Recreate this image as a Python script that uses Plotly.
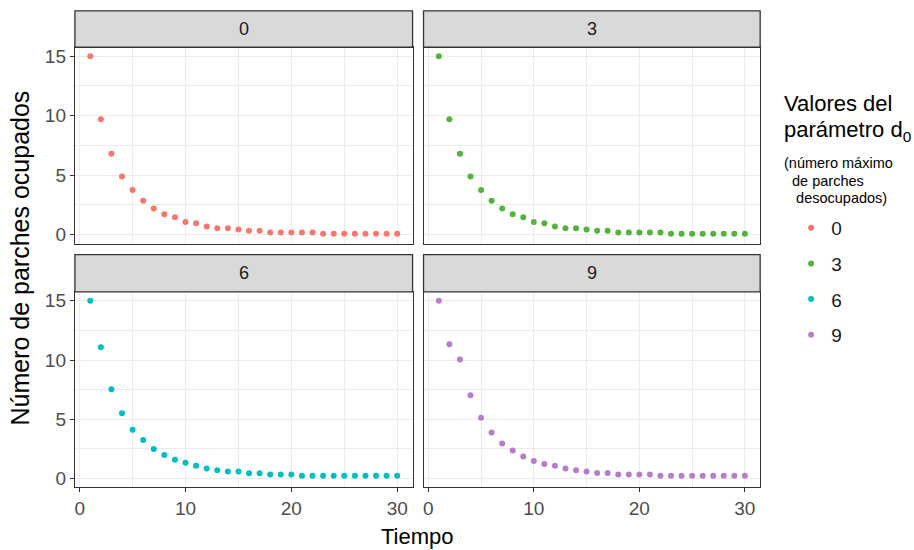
import plotly.graph_objects as go

# ---------------- data ----------------
tiempo = list(range(1, 31))
d0_levels = ["0", "3", "6", "9"]
colors = ["#F8766D", "#53B43A", "#00BFC4", "#B77DCB"]

parches_d0_0 = [15, 9.7, 6.8, 4.9, 3.75, 2.85, 2.2, 1.72, 1.47, 1.08, 0.97, 0.69, 0.55, 0.55, 0.44,
                0.33, 0.33, 0.19, 0.19, 0.19, 0.19, 0.19, 0.08, 0.08, 0.08, 0.08, 0.08, 0.08, 0.08, 0.08]
parches_d0_3 = [15, 9.7, 6.8, 4.9, 3.75, 2.85, 2.2, 1.72, 1.47, 1.08, 0.97, 0.69, 0.55, 0.55, 0.44,
                0.33, 0.33, 0.19, 0.19, 0.19, 0.19, 0.19, 0.08, 0.08, 0.08, 0.08, 0.08, 0.08, 0.08, 0.08]
parches_d0_6 = [15, 11.07, 7.53, 5.51, 4.12, 3.24, 2.49, 1.97, 1.58, 1.33, 1.08, 0.83, 0.69, 0.58, 0.58,
                0.44, 0.44, 0.33, 0.33, 0.33, 0.22, 0.22, 0.22, 0.22, 0.22, 0.22, 0.22, 0.22, 0.22, 0.22]
parches_d0_9 = [15, 11.32, 10.05, 7.03, 5.12, 3.87, 2.96, 2.35, 1.85, 1.47, 1.22, 1.08, 0.83, 0.69, 0.58,
                0.47, 0.47, 0.33, 0.33, 0.33, 0.33, 0.22, 0.22, 0.22, 0.22, 0.22, 0.22, 0.22, 0.22, 0.22]
series = [parches_d0_0, parches_d0_3, parches_d0_6, parches_d0_9]

x_major = [0, 10, 20, 30]
x_minor = [5, 15, 25]
y_major = [0, 5, 10, 15]
y_minor = [2.5, 7.5, 12.5]

legend_title_lines = ["Valores del", "parámetro d<sub>0</sub>"]
legend_note_lines = ["(número máximo", "\u00a0\u00a0de parches", "\u00a0\u00a0\u00a0desocupados)"]

# ---------------- layout geometry ----------------
W, H = 914, 550
def px(x): return x / W
def py(y): return 1 - y / H

x_dom = [[px(74), px(412)], [px(423), px(760)]]
panel_y = [[py(244), py(46.5)], [py(489), py(292.5)]]
strip_y = [[py(46.5), py(10)], [py(292.5), py(255)]]

FONT = "Liberation Sans, Arial, sans-serif"
BORDER = "#333333"
GRID = "#EBEBEB"

fig = go.Figure()
layout = dict(
    width=W, height=H,
    margin=dict(l=0, r=0, t=0, b=0),
    paper_bgcolor="white", plot_bgcolor="white",
    font=dict(family=FONT, color="#1A1A1A"),
    showlegend=True,
)
shapes, annotations = [], []

for i, (lev, col, vals) in enumerate(zip(d0_levels, colors, series)):
    r, c = divmod(i, 2)
    n = i + 1
    xa = "x" if n == 1 else f"x{n}"
    ya = "y" if n == 1 else f"y{n}"
    fig.add_trace(go.Scatter(
        x=tiempo, y=vals, mode="markers", name=lev,
        marker=dict(color=col, size=6),
        xaxis=xa, yaxis=ya, legendgroup=lev,
    ))
    bottom = r == 1
    left = c == 0
    layout["xaxis" if n == 1 else f"xaxis{n}"] = dict(
        domain=x_dom[c], anchor=ya, range=[-0.45, 31.45],
        tickvals=x_major, showticklabels=bottom,
        ticks="outside" if bottom else "", ticklen=4, tickwidth=1.1, tickcolor=BORDER,
        tickfont=dict(size=19, color="#4D4D4D", family=FONT),
        showgrid=True, gridcolor=GRID, gridwidth=1.1,
        minor=dict(tickvals=x_minor, showgrid=True, gridcolor=GRID, gridwidth=0.6, ticks=""),
        showline=True, mirror=True, linecolor=BORDER, linewidth=1.3, zeroline=False,
    )
    layout["yaxis" if n == 1 else f"yaxis{n}"] = dict(
        domain=panel_y[r], anchor=xa, range=[-0.75, 15.75],
        tickvals=y_major, showticklabels=left,
        ticks="outside" if left else "", ticklen=4, tickwidth=1.1, tickcolor=BORDER,
        tickfont=dict(size=19, color="#4D4D4D", family=FONT),
        showgrid=True, gridcolor=GRID, gridwidth=1.1,
        minor=dict(tickvals=y_minor, showgrid=True, gridcolor=GRID, gridwidth=0.6, ticks=""),
        showline=True, mirror=True, linecolor=BORDER, linewidth=1.3, zeroline=False,
    )
    shapes.append(dict(type="rect", xref="paper", yref="paper",
                       x0=x_dom[c][0], x1=x_dom[c][1], y0=strip_y[r][0], y1=strip_y[r][1],
                       fillcolor="#D9D9D9", line=dict(color=BORDER, width=1.3), layer="above"))
    annotations.append(dict(text=lev, xref="paper", yref="paper",
                            x=(x_dom[c][0] + x_dom[c][1]) / 2, y=(strip_y[r][0] + strip_y[r][1]) / 2,
                            xanchor="center", yanchor="middle", showarrow=False,
                            font=dict(size=18, color="#1A1A1A", family=FONT)))

annotations.append(dict(text="Número de parches ocupados", xref="paper", yref="paper",
                        x=px(19), y=py(258), textangle=-90, showarrow=False,
                        xanchor="center", yanchor="middle",
                        font=dict(size=25, color="#000000", family=FONT)))
annotations.append(dict(text="Tiempo", xref="paper", yref="paper",
                        x=px(417), y=py(538), showarrow=False,
                        xanchor="center", yanchor="middle",
                        font=dict(size=22, color="#000000", family=FONT)))

# legend title (drawn as text lines next to the legend)
for txt, yc in zip(legend_title_lines, [103, 131]):
    annotations.append(dict(text=txt, xref="paper", yref="paper", x=px(782), y=py(yc),
                            xanchor="left", yanchor="middle", showarrow=False,
                            font=dict(size=22, color="#000000", family=FONT)))
for txt, yc in zip(legend_note_lines, [163, 180.5, 198]):
    annotations.append(dict(text=txt, xref="paper", yref="paper", x=px(782), y=py(yc),
                            xanchor="left", yanchor="middle", showarrow=False,
                            font=dict(size=14.5, color="#000000", family=FONT)))

layout["legend"] = dict(
    x=px(791), y=py(209), xanchor="left", yanchor="top",
    font=dict(size=19, color="#1A1A1A", family=FONT),
    traceorder="grouped", tracegroupgap=8, itemsizing="trace",
    bgcolor="rgba(0,0,0,0)",
)
layout["shapes"] = shapes
layout["annotations"] = annotations
fig.update_layout(**layout)

fig.write_html("out.html")
